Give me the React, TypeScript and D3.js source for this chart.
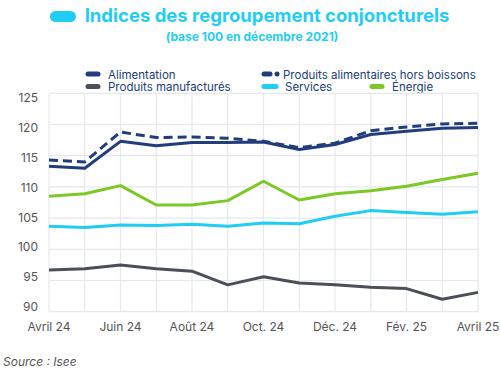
import React from "react";
import * as d3 from "d3";

const months = ["Avril 24","Mai 24","Juin 24","Juil. 24","Août 24","Sept. 24","Oct. 24","Nov. 24","Déc. 24","Janv. 25","Fév. 25","Mars 25","Avril 25"];
const tickMonths = ["Avril 24","Juin 24","Août 24","Oct. 24","Déc. 24","Fév. 25","Avril 25"];
const yTicks = [90, 95, 100, 105, 110, 115, 120, 125];

const alimentation = [113.3, 113.0, 117.3, 116.6, 117.1, 117.1, 117.2, 116.0, 116.8, 118.4, 118.9, 119.4, 119.5];
const alimHorsBoissons = [114.3, 114.0, 118.8, 117.9, 118.0, 117.8, 117.3, 116.3, 117.0, 119.0, 119.6, 120.1, 120.2];
const manufactures = [96.7, 96.9, 97.5, 96.9, 96.5, 94.3, 95.6, 94.6, 94.3, 93.9, 93.7, 92.0, 93.1];
const services = [103.7, 103.5, 103.9, 103.8, 104.0, 103.7, 104.2, 104.1, 105.3, 106.2, 105.9, 105.6, 106.0];
const energie = [108.5, 108.9, 110.2, 107.1, 107.1, 107.8, 110.9, 107.9, 108.9, 109.4, 110.1, 111.2, 112.2];

const seriesNames = ["Alimentation", "Produits alimentaires hors boissons", "Produits manufacturés", "Services", "Énergie"];
const colors = ["#223d7c", "#223d7c", "#4b4f57", "#1fcdf5", "#7cc824"];

export default function App() {
  const W = 500, H = 375;
  const x = d3.scalePoint<string>().domain(months).range([49, 478]);
  const y = d3.scaleLinear().domain([90, 125]).range([311.7, 93.3]);
  const yLabel = d3.scaleLinear().domain([90, 125]).range([307, 98]);
  const line = d3.line<number>().x((_, i) => x(months[i]) as number).y((d) => y(d)).curve(d3.curveLinear);
  const data = [alimentation, alimHorsBoissons, manufactures, services, energie];
  const font = "Inter, 'DejaVu Sans', sans-serif";
  const drawOrder = [2, 3, 4, 0, 1];

  const legend = [
    { i: 0, sx: 86, tx: 108, ty: 78.5 },
    { i: 1, sx: 262, tx: 283, ty: 78.5 },
    { i: 2, sx: 86, tx: 108, ty: 91 },
    { i: 3, sx: 262, tx: 285, ty: 91 },
    { i: 4, sx: 370, tx: 392, ty: 91 },
  ];

  return (
    <svg width={W} height={H} style={{ position: "absolute", left: 0, top: 0, background: "#fff" }} fontFamily={font}>
      <rect x={0} y={0} width={W} height={H} fill="#fff" />
      {/* title */}
      <rect x={50} y={11} width={26} height={11} rx={5.5} fill="#1fcdf5" />
      <text x={267} y={22} textAnchor="middle" fontSize={18.5} fontWeight={700} fill="#1fcdf5">Indices des regroupement conjoncturels</text>
      <text x={252} y={41} textAnchor="middle" fontSize={12} fontWeight={700} fill="#1fcdf5">(base 100 en décembre 2021)</text>
      {/* legend */}
      {legend.map((l) => (
        <g key={l.i}>
          {l.i === 1 ? (
            <g>
              <line x1={264} x2={270} y1={l.ty - 4.5} y2={l.ty - 4.5} stroke={colors[1]} strokeWidth={5} strokeLinecap="round" />
              <circle cx={277} cy={l.ty - 4.5} r={2.5} fill={colors[1]} />
            </g>
          ) : (
            <line x1={l.sx + 2} x2={l.sx + (l.i === 3 ? 14 : 12)} y1={l.ty - 4.5} y2={l.ty - 4.5} stroke={colors[l.i]} strokeWidth={5} strokeLinecap="round" />
          )}
          <text x={l.tx} y={l.ty} fontSize={11.5} fill="#223d7c">{seriesNames[l.i]}</text>
        </g>
      ))}
      {/* grid */}
      {months.map((m) => (
        <line key={m} x1={x(m)} x2={x(m)} y1={y(125)} y2={y(90)} stroke="#e6e8ea" strokeWidth={1.2} />
      ))}
      {yTicks.map((t) => (
        <line key={t} x1={49} x2={478} y1={y(t)} y2={y(t)} stroke="#e6e8ea" strokeWidth={1.2} />
      ))}
      {yTicks.map((t) => (
        <text key={t} x={38} y={yLabel(t)} dy="0.35em" textAnchor="end" fontSize={12} fill="#555">{t}</text>
      ))}
      {tickMonths.map((m) => (
        <text key={m} x={x(m)} y={331} textAnchor="middle" fontSize={12} fill="#555">{m}</text>
      ))}
      {/* lines */}
      {drawOrder.map((i) => (
        <path key={i} d={line(data[i]) || ""} fill="none" stroke={colors[i]} strokeWidth={3}
          strokeDasharray={i === 1 ? "9 5" : undefined} strokeLinejoin="round" />
      ))}
      <text x={3} y={366} fontSize={12} fontStyle="italic" fill="#555">Source : Isee</text>
    </svg>
  );
}
